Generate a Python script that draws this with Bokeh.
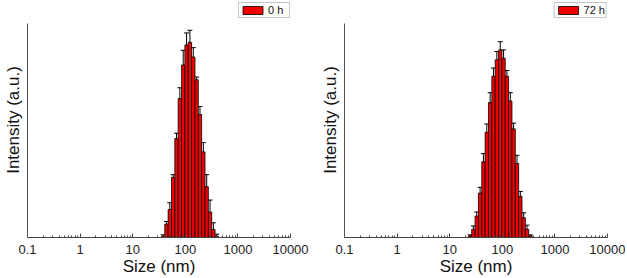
from bokeh.plotting import figure
from bokeh.models import (ColumnDataSource, Whisker, TeeHead, Legend, LegendItem,
                          FixedTicker, NumeralTickFormatter, Range1d)
from bokeh.layouts import row
from bokeh.embed import file_html
from bokeh.resources import INLINE

# ---- data ----
sizes_0h = [37.84, 43.82, 50.75, 58.77, 68.06, 78.82, 91.28, 105.7, 122.4, 141.8,
            164.2, 190.1, 220.2, 255.0, 295.3, 342.0, 396.1]
intensity_0h = [0.1, 1.0, 2.1, 4.5, 7.4, 10.4, 12.9, 14.4, 14.6, 13.5,
                11.8, 9.2, 6.4, 3.8, 1.9, 0.6, 0.1]
error_0h = [0.1, 0.2, 0.5, 0.2, 0.4, 0.8, 1.1, 0.9, 0.9, 0.7,
            0.2, 0.6, 0.7, 0.9, 0.9, 0.5, 0.15]

sizes_72h = [24.36, 28.21, 32.67, 37.84, 43.82, 50.75, 58.77, 68.06, 78.82, 91.28,
             105.7, 122.4, 141.8, 164.2, 190.1, 220.2, 255.0, 295.3, 342.0]
intensity_72h = [0.1, 0.5, 1.3, 2.7, 4.6, 6.4, 8.2, 9.8, 10.8, 11.4,
                 10.9, 9.8, 8.3, 6.6, 4.5, 2.5, 1.2, 0.5, 0.1]
error_72h = [0.06, 0.2, 0.25, 0.35, 0.5, 0.5, 0.6, 0.5, 0.5, 0.5,
             0.5, 0.35, 0.5, 0.35, 0.5, 0.3, 0.3, 0.25, 0.06]

xticks = [0.1, 1, 10, 100, 1000, 10000]
labels = ["0 h", "72 h"]
ymax = [16.0, 13.0]          # value at the top end of each y axis line

BIN_HALF = 10 ** (0.0637 / 2)
FONT = "Liberation Sans"
HEADROOM = 234 / 213          # frame is taller than the drawn y axis (legend room)


def make(sizes, vals, errs, label, ytop, width, border_right):
    src = ColumnDataSource(dict(
        x=sizes,
        left=[s / BIN_HALF for s in sizes],
        right=[s * BIN_HALF for s in sizes],
        top=vals,
        bottom=[0] * len(sizes),
        upper=[v + e for v, e in zip(vals, errs)],
        lower=[max(v - e, 0) for v, e in zip(vals, errs)],
    ))
    p = figure(width=width, height=278, x_axis_type="log",
               x_range=Range1d(0.1, 10000), y_range=Range1d(0, ytop * HEADROOM),
               output_backend="svg", toolbar_location=None,
               min_border_left=25, min_border_right=border_right,
               min_border_top=2, min_border_bottom=0)
    p.grid.visible = False
    p.outline_line_color = None

    r = p.quad(left="left", right="right", top="top", bottom="bottom", source=src,
               fill_color="#F00000", line_color="black", line_width=0.8)
    w = Whisker(source=src, base="x", upper="upper", lower="lower",
                dimension="height", line_color="black", line_width=1,
                upper_head=TeeHead(size=5, line_color="black", line_width=1),
                lower_head=None)
    p.add_layout(w)

    xa = p.xaxis[0]
    xa.ticker = FixedTicker(ticks=xticks,
                            minor_ticks=[t * k for t in xticks[:-1] for k in range(2, 10)])
    xa.formatter = NumeralTickFormatter(format="0.[0]")
    xa.major_tick_in = 4
    xa.major_tick_out = 0
    xa.minor_tick_in = 2
    xa.minor_tick_out = 0
    xa.axis_line_color = "#444444"
    xa.major_tick_line_color = "#444444"
    xa.minor_tick_line_color = "#444444"
    xa.major_label_text_font = FONT
    xa.major_label_text_font_size = "13px"
    xa.major_label_text_color = "#222222"
    xa.major_label_standoff = 7
    xa.axis_label = "Size (nm)"
    xa.axis_label_text_font = FONT
    xa.axis_label_text_font_size = "17px"
    xa.axis_label_text_font_style = "normal"
    xa.axis_label_text_color = "#111111"
    xa.axis_label_standoff = 0

    ya = p.yaxis[0]
    ya.ticker = FixedTicker(ticks=[])
    ya.bounds = (0, ytop)
    ya.major_tick_in = 0
    ya.major_tick_out = 0
    ya.minor_tick_in = 0
    ya.minor_tick_out = 0
    ya.major_label_standoff = 0
    ya.axis_line_color = "#555555"
    ya.axis_label = "Intensity (a.u.)"
    ya.axis_label_text_font = FONT
    ya.axis_label_text_font_size = "17px"
    ya.axis_label_text_font_style = "normal"
    ya.axis_label_text_color = "#111111"
    ya.axis_label_standoff = 5

    legend = Legend(items=[LegendItem(label=label, renderers=[r])],
                    location="top_right", orientation="horizontal",
                    margin=0, padding=1, spacing=0,
                    glyph_width=25, glyph_height=10, label_height=12,
                    label_standoff=3, label_text_font=FONT,
                    label_text_font_size="11px", label_text_color="#111111",
                    border_line_color="#888888", border_line_width=1,
                    background_fill_alpha=1)
    p.add_layout(legend)
    return p


p1 = make(sizes_0h, intensity_0h, error_0h, labels[0], ymax[0], 317, 27)
p2 = make(sizes_72h, intensity_72h, error_72h, labels[1], ymax[1], 308, 18)
layout = row(p1, p2)

open("out.html", "w").write(file_html(layout, INLINE))
